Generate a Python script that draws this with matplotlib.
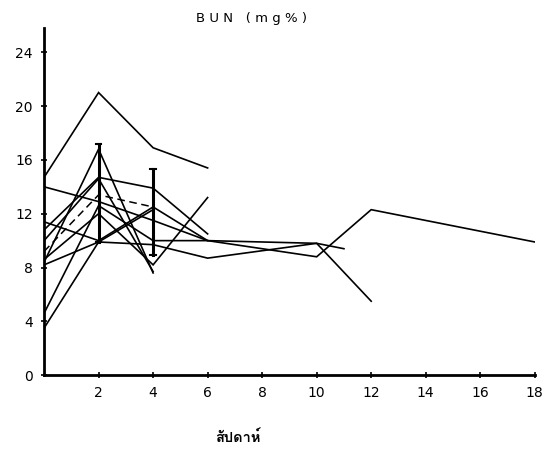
import matplotlib
matplotlib.use("Agg")
import matplotlib.pyplot as plt
from matplotlib import font_manager
from matplotlib.ft2font import FT2Font

# weeks on x, BUN (mg%) on y, one list pair per patient
P1_X = [0, 2, 4, 6]
P1_Y = [14.7, 21.0, 16.9, 15.4]
P2_X = [0, 2, 4, 6, 10, 12]
P2_Y = [14.0, 12.9, 11.5, 10.0, 9.8, 5.5]
P3_X = [0, 2, 4, 6, 10, 12, 18]
P3_Y = [11.4, 10.0, 12.5, 10.0, 8.8, 12.3, 9.9]
P4_X = [0, 2, 4, 6]
P4_Y = [10.8, 14.7, 13.9, 10.5]
P5_X = [0, 2, 4]
P5_Y = [8.4, 16.8, 7.6]
P6_X = [0, 2, 4]
P6_Y = [10.0, 14.6, 7.7]
P7_X = [0, 2, 4, 6]
P7_Y = [8.6, 12.0, 8.2, 13.2]
P8_X = [0, 2, 4, 6]
P8_Y = [4.6, 12.6, 10.0, 10.0]
P9_X = [0, 2, 4]
P9_Y = [3.5, 9.9, 12.3]
P10_X = [0, 2, 4, 6, 10, 11]
P10_Y = [8.2, 9.9, 9.7, 8.7, 9.8, 9.4]

PATIENTS = [(P1_X, P1_Y), (P2_X, P2_Y), (P3_X, P3_Y), (P4_X, P4_Y), (P5_X, P5_Y),
            (P6_X, P6_Y), (P7_X, P7_Y), (P8_X, P8_Y), (P9_X, P9_Y), (P10_X, P10_Y)]

# group mean (dashed) and range bars
MEAN_X = [0, 2, 4]
MEAN_Y = [9.2, 13.4, 12.5]
BAR_X = [2, 4]
BAR_LO = [9.9, 8.9]
BAR_HI = [17.2, 15.3]

X_TICKS = [2, 4, 6, 8, 10, 12, 14, 16, 18]
Y_TICKS = [0, 4, 8, 12, 16, 20, 24]
TITLE = "B U N   ( m g % )"
XLABEL = "สัปดาห์"


def thai_font():
    # pick an installed font that actually has Thai glyphs
    for f in font_manager.fontManager.ttflist:
        try:
            if FT2Font(f.fname).get_char_index(ord("ส")):
                return f.name
        except Exception:
            pass
    return "DejaVu Sans"


fig = plt.figure(figsize=(5.44, 4.51), dpi=100)
ax = fig.add_axes([0.081, 0.168, 0.902, 0.770])

for xs, ys in PATIENTS:
    ax.plot(xs, ys, color="black", lw=1.2, solid_joinstyle="miter")

ax.plot(MEAN_X, MEAN_Y, color="black", lw=1.1, ls=(0, (5, 3)))
for bx, lo, hi in zip(BAR_X, BAR_LO, BAR_HI):
    ax.plot([bx, bx], [lo, hi], color="black", lw=2.2)
    ax.plot([bx - 0.1, bx + 0.1], [hi, hi], color="black", lw=1.5)
    ax.plot([bx - 0.1, bx + 0.1], [lo, lo], color="black", lw=1.5)

ax.set_xlim(0, 18)
ax.set_ylim(0, 25.8)
ax.set_xticks(X_TICKS)
ax.set_yticks(Y_TICKS)
ax.tick_params(axis="both", direction="inout", length=4, width=1.2,
               labelsize=10, pad=6)
for s in ("top", "right"):
    ax.spines[s].set_visible(False)
for s in ("left", "bottom"):
    ax.spines[s].set_linewidth(2.0)

fig.text(0.463, 0.96, TITLE, ha="center", va="center", fontsize=9.5)
fig.text(0.437, 0.030, XLABEL, ha="center", va="center", fontsize=10.5,
         family=[thai_font(), "DejaVu Sans"], weight="bold")

fig.savefig("out.png", dpi=100)
